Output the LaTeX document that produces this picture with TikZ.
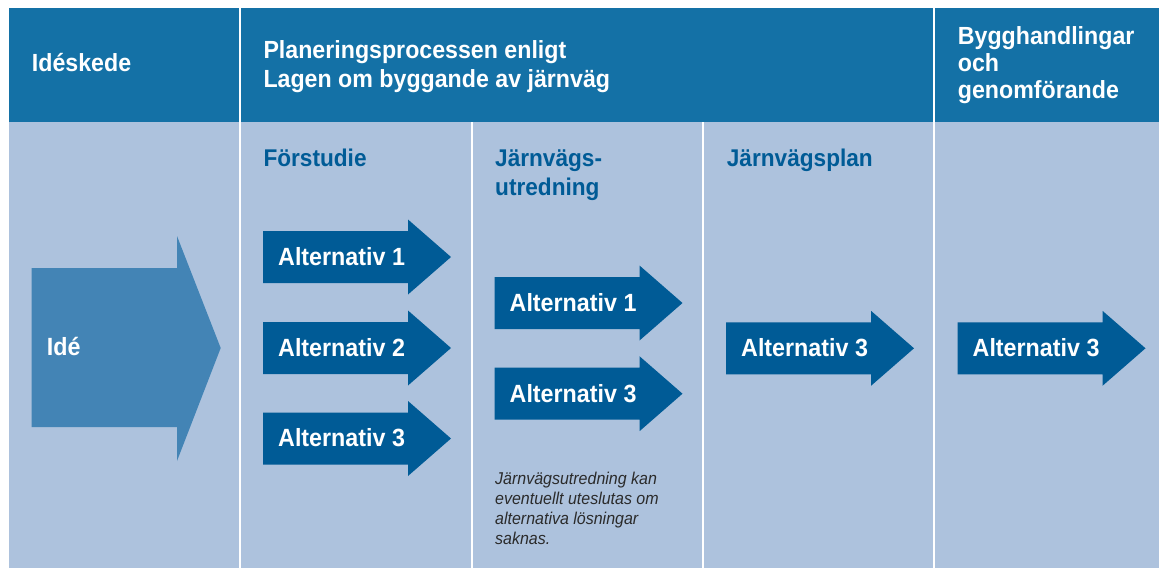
\documentclass[tikz,border=0pt]{standalone}
\usepackage{fontspec}
\setmainfont[FakeStretch=0.935]{Liberation Sans}
\definecolor{headblue}{HTML}{1471A6}
\definecolor{lightbg}{HTML}{ADC2DD}
\definecolor{darkarrow}{HTML}{005B96}
\definecolor{ideblue}{HTML}{4384B5}
\definecolor{notegray}{HTML}{2B2B2B}
\newcommand{\altarrow}[4]{%
  \fill[darkarrow] (#2,#3-26) -- (#2+145,#3-26) -- (#2+145,#3-37.5) -- (#2+188,#3)
     -- (#2+145,#3+37.5) -- (#2+145,#3+26) -- (#2,#3+26) -- cycle;
  \node[alttext] (#1) at (#2+15,#3+8.3) {#4};}
\begin{document}
\begin{tikzpicture}[x=1pt,y=-1pt,
  headtext/.style={anchor=base west,inner sep=0pt,text=white,align=left,
    font=\fontsize{24.8}{29}\selectfont\bfseries},
  subtext/.style={anchor=base west,inner sep=0pt,text=darkarrow,align=left,
    font=\fontsize{24.2}{28.4}\selectfont\bfseries},
  alttext/.style={anchor=base west,inner sep=0pt,text=white,
    font=\fontsize{24.9}{28}\selectfont\bfseries},
  notetext/.style={anchor=base west,inner sep=0pt,text=notegray,align=left,
    font=\fontsize{17.1}{20}\selectfont\itshape},
  sepline/.style={draw=white,line width=1.5pt}]
\useasboundingbox (0,0) rectangle (1159,568);
\fill[white] (0,0) rectangle (1159,568);
% backgrounds
\fill[headblue] (9,8) rectangle (1159,122);
\fill[lightbg] (9,122) rectangle (1159,568);
% separator lines
\coordinate (l1t) at (240,8);   \coordinate (l1b) at (240,568);
\coordinate (l2t) at (472,122); \coordinate (l2b) at (472,568);
\coordinate (l3t) at (703,122); \coordinate (l3b) at (703,568);
\coordinate (l4t) at (934,8);   \coordinate (l4b) at (934,568);
\draw[sepline] (l1t) -- (l1b);
\draw[sepline] (l2t) -- (l2b);
\draw[sepline] (l3t) -- (l3b);
\draw[sepline] (l4t) -- (l4b);
% header texts (multi-line nodes: base = last line's baseline)
\node[headtext] (h1) at (31.7,71.7) {Idéskede};
\node[headtext] (h2) at (263.3,87.3) {Planeringsprocessen enligt\\Lagen om byggande av järnväg};
\node[headtext,font=\fontsize{24.8}{27}\selectfont\bfseries] (h3) at (957.7,98) {Bygghandlingar\\och\\genomförande};
% sub headers
\node[subtext] (s1) at (263.3,166) {Förstudie};
\node[subtext] (s2) at (495,195) {Järnvägs-\\utredning};
\node[subtext] (s3) at (726.7,166) {Järnvägsplan};
% Idé arrow
\fill[ideblue] (31.7,268) -- (177,268) -- (177,236) -- (220.7,348) -- (177,461)
   -- (177,427) -- (31.7,427) -- cycle;
\node[alttext] (ide) at (46.7,355.7) {Idé};
% alternative arrows
\altarrow{a11}{263}{257}{Alternativ 1}
\altarrow{a12}{263}{348}{Alternativ 2}
\altarrow{a13}{263}{438.5}{Alternativ 3}
\altarrow{a21}{494.5}{303}{Alternativ 1}
\altarrow{a23}{494.5}{393.7}{Alternativ 3}
\altarrow{a33}{726}{348.3}{Alternativ 3}
\altarrow{a43}{957.5}{348.3}{Alternativ 3}
% note
\node[notetext] (note) at (495,544.3) {Järnvägsutredning kan\\eventuellt uteslutas om\\alternativa lösningar\\saknas.};
\end{tikzpicture}
\end{document}
